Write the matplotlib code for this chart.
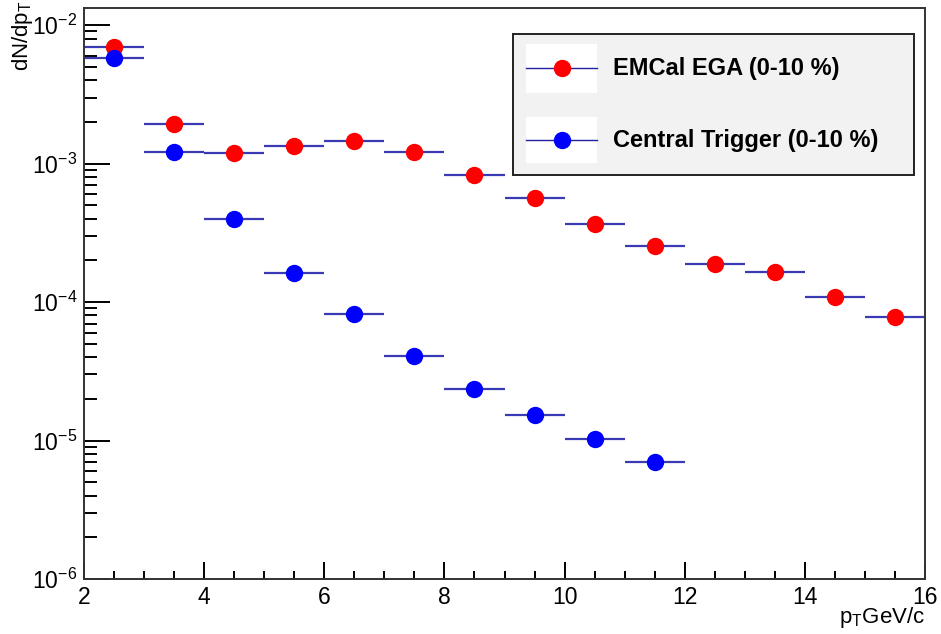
import numpy as np
import matplotlib
matplotlib.use('Agg')
import matplotlib.pyplot as plt
from matplotlib.patches import Rectangle
from matplotlib.lines import Line2D
from matplotlib.ticker import LogLocator, LogFormatterMathtext, MultipleLocator, NullFormatter

plt.rcParams['font.family'] = ['Liberation Sans', 'DejaVu Sans']
plt.rcParams['mathtext.fontset'] = 'custom'
plt.rcParams['mathtext.rm'] = 'Liberation Sans'
plt.rcParams['mathtext.it'] = 'Liberation Sans:italic'
plt.rcParams['mathtext.bf'] = 'Liberation Sans:bold'

# bin centres (GeV/c) and half widths
pt_emcal = [2.5, 3.5, 4.5, 5.5, 6.5, 7.5, 8.5, 9.5, 10.5, 11.5, 12.5, 13.5, 14.5, 15.5]
dn_emcal = [6.97e-3, 1.93e-3, 1.19e-3, 1.35e-3, 1.46e-3, 1.22e-3, 8.3e-4, 5.64e-4,
            3.69e-4, 2.54e-4, 1.87e-4, 1.66e-4, 1.09e-4, 7.8e-5]

pt_central = [2.5, 3.5, 4.5, 5.5, 6.5, 7.5, 8.5, 9.5, 10.5, 11.5]
dn_central = [5.83e-3, 1.22e-3, 3.96e-4, 1.62e-4, 8.24e-5, 4.1e-5, 2.34e-5, 1.53e-5,
              1.03e-5, 7.05e-6]

half_bin = 0.5
labels = ['EMCal EGA (0-10 %)', 'Central Trigger (0-10 %)']

bar_color = '#3a3ab4'
series = [(pt_emcal, dn_emcal, '#ff0000'), (pt_central, dn_central, '#0000ff')]

fig = plt.figure(figsize=(9.41, 6.34), dpi=100)
ax = fig.add_axes([84 / 941, 1 - 579 / 634, 841 / 941, 571 / 634])

for x, y, c in series:
    ax.errorbar(x, y, xerr=half_bin, fmt='none', ecolor=bar_color, elinewidth=1.6,
                capsize=0, zorder=2)
    ax.plot(x, y, 'o', color=c, markersize=12.5, markeredgewidth=0, zorder=3)

ax.set_yscale('log')
ax.set_xlim(2, 16)
ax.set_ylim(1e-6, 1.33e-2)

ax.xaxis.set_major_locator(MultipleLocator(2))
ax.xaxis.set_minor_locator(MultipleLocator(0.5))
ax.yaxis.set_major_locator(LogLocator(base=10))
ax.yaxis.set_major_formatter(LogFormatterMathtext())
ax.yaxis.set_minor_locator(LogLocator(base=10, subs=np.arange(2, 10)))
ax.yaxis.set_minor_formatter(NullFormatter())

ax.tick_params(axis='both', which='both', direction='in', top=False, right=False,
               labelsize=16.5, colors='black', width=1.4)
ax.tick_params(axis='x', which='major', length=12, pad=5)
ax.tick_params(axis='x', which='minor', length=6)
ax.tick_params(axis='y', which='major', length=19, pad=5)
ax.tick_params(axis='y', which='minor', length=9.5)

for s in ax.spines.values():
    s.set_linewidth(1.4)
    s.set_color('#333333')

ax.set_xlabel(r'p$_{\mathrm{T}}$GeV/c', fontsize=16, loc='right')
ax.xaxis.set_label_coords(1.0, -0.045)
ax.set_ylabel(r'dN/dp$_{\mathrm{T}}$', fontsize=16, loc='top')
ax.yaxis.set_label_coords(-0.058, 1.014)

# legend box drawn the way ROOT does it
ax.add_patch(Rectangle((0.5097, 0.7076), 0.4772, 0.2469, transform=ax.transAxes,
                       facecolor='#f2f2f2', edgecolor='#222222', linewidth=1.4,
                       zorder=5, clip_on=False))
rows = [(0.8949, 0.937, 0.8517), (0.7688, 0.8096, 0.7285)]
for (yc, y1, y0), (_, _, c), lab in zip(rows, series, labels):
    ax.add_patch(Rectangle((0.5256, y0), 0.0844, y1 - y0, transform=ax.transAxes,
                           facecolor='white', edgecolor='none', zorder=6))
    ax.add_line(Line2D([0.5256, 0.6100], [yc, yc], transform=ax.transAxes,
                       color='#2020a0', linewidth=1.0, zorder=7))
    ax.add_line(Line2D([0.568], [yc], transform=ax.transAxes, marker='o',
                       color=c, markersize=12.5, markeredgewidth=0, zorder=8))
    ax.text(0.6287, yc, lab, transform=ax.transAxes, fontsize=17,
            fontweight='bold', va='center', ha='left', zorder=8)

fig.savefig('out.png', dpi=100)
